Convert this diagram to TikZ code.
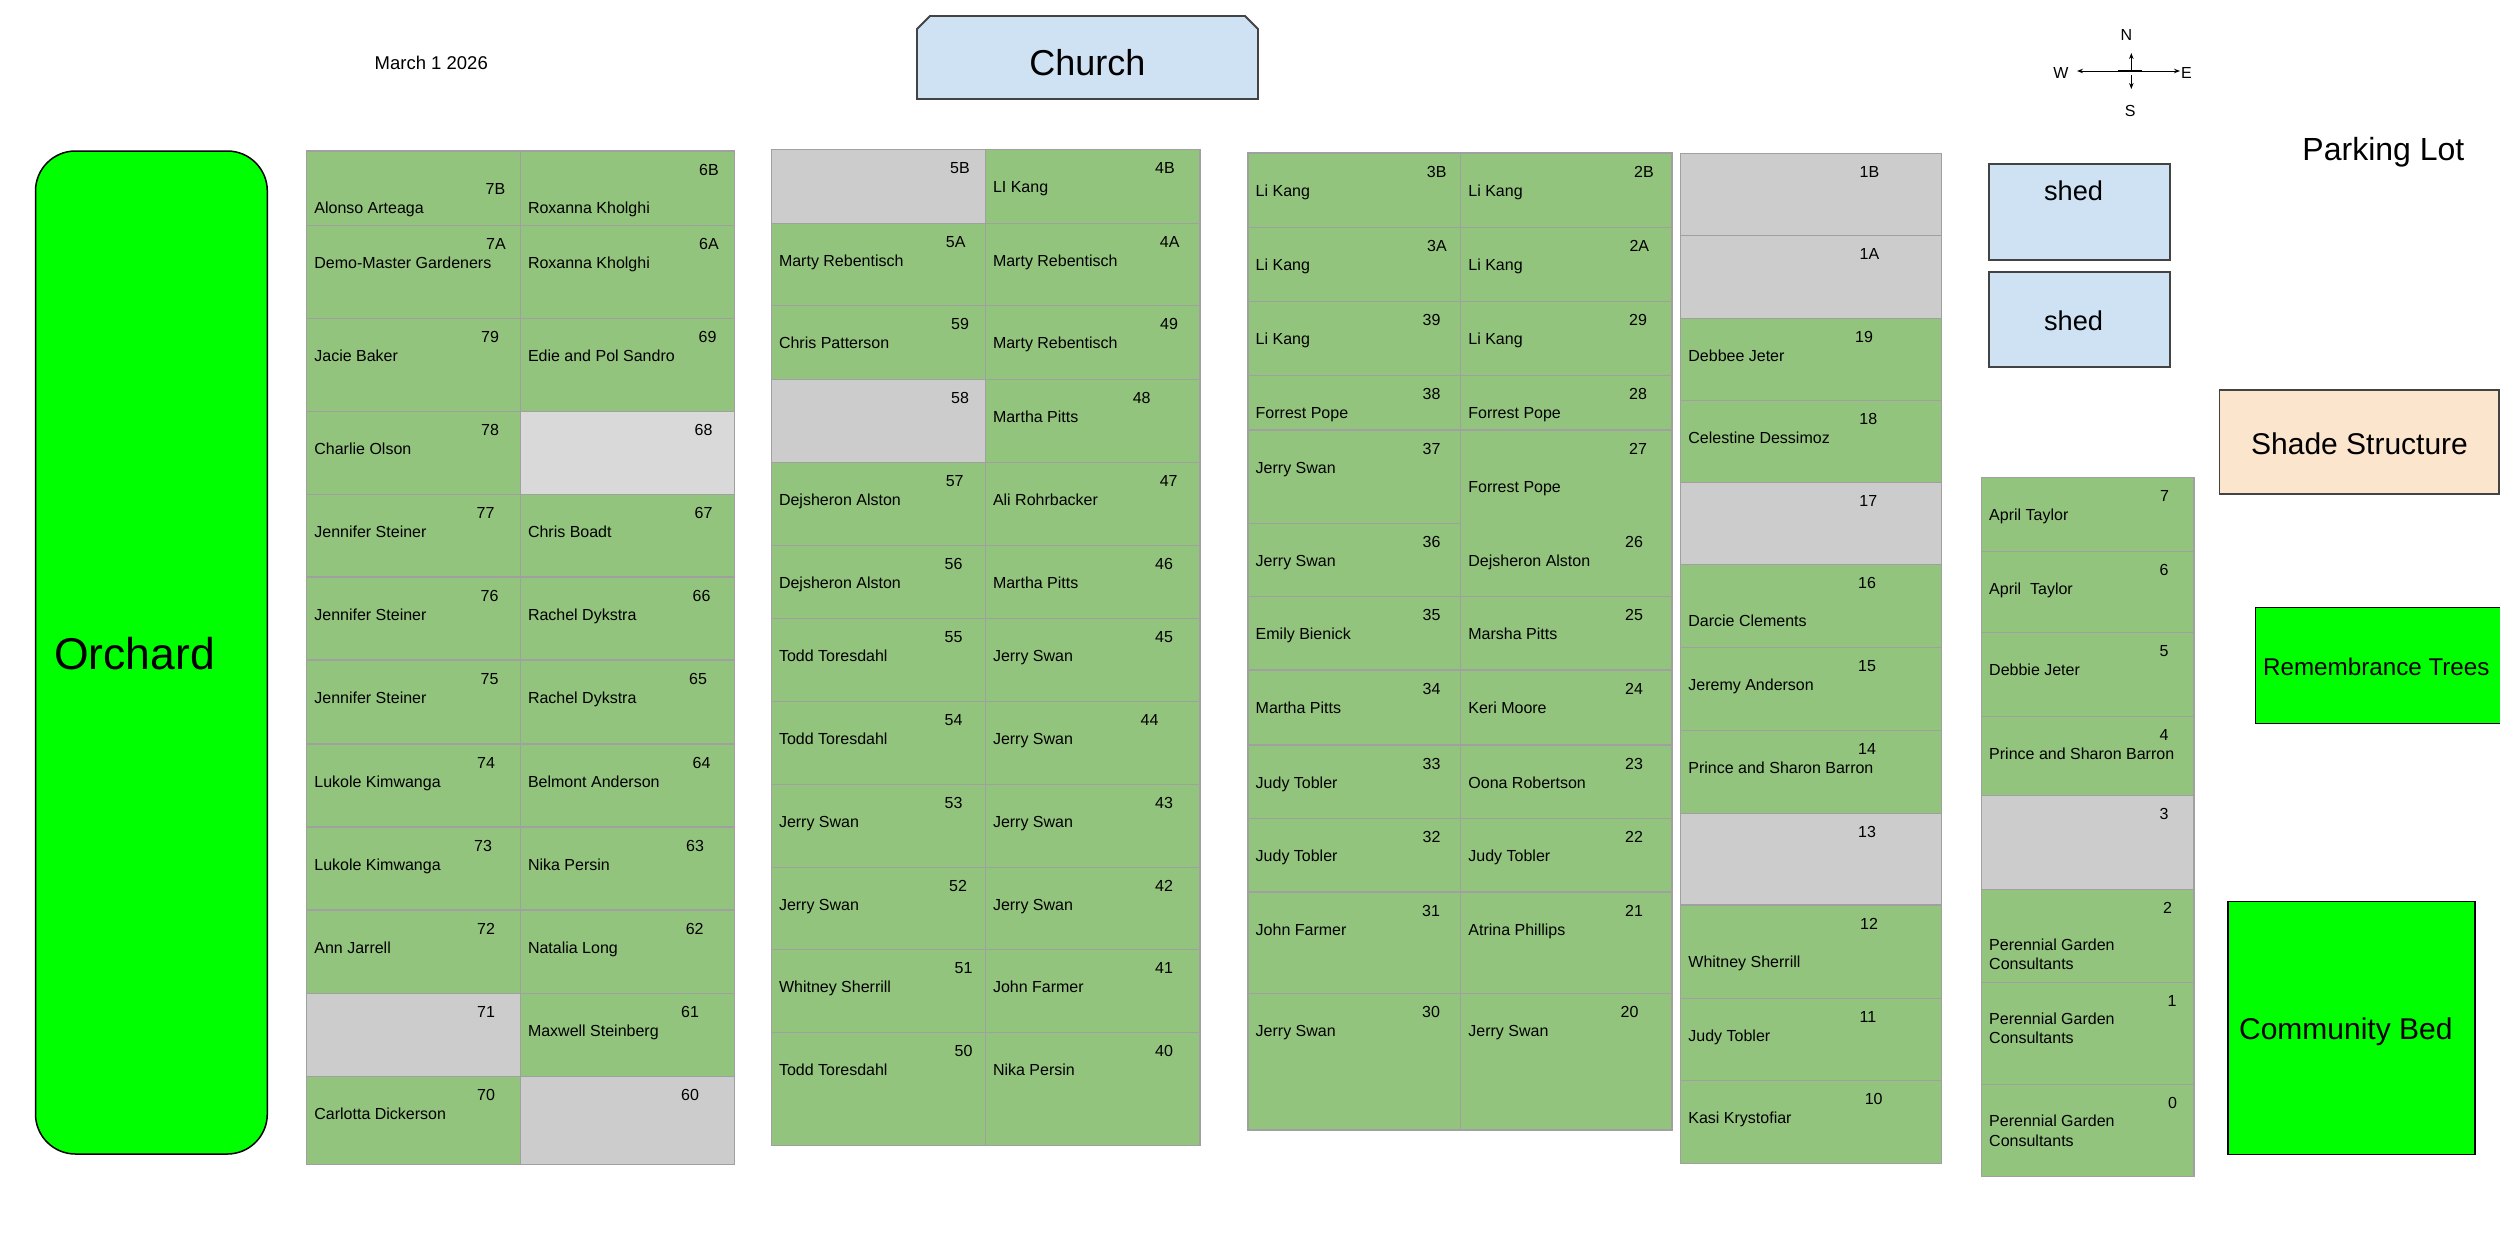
\documentclass[tikz,border=0pt]{standalone}
\usepackage{fontspec}
\setmainfont{Liberation Sans}
\usetikzlibrary{arrows.meta}
\definecolor{plotgreen}{HTML}{93C47D}
\definecolor{plotgray}{HTML}{CCCCCC}
\definecolor{plotlight}{HTML}{D9D9D9}
\definecolor{plotline}{HTML}{A0A0A0}
\definecolor{shedblue}{HTML}{CFE2F3}
\definecolor{shadepeach}{HTML}{FCE5CD}
\definecolor{brightgreen}{HTML}{00FF00}
\definecolor{darkline}{HTML}{434343}
\tikzset{
  plotbox/.style={draw=plotline, line width=1.2pt},
  greenplot/.style={plotbox, fill=plotgreen},
  grayplot/.style={plotbox, fill=plotgray},
  lightplot/.style={plotbox, fill=plotlight},
  numtxt/.style={anchor=base, inner sep=0pt, font=\fontsize{16}{19}\selectfont},
  nametxt/.style={anchor=base west, inner sep=0pt, font=\fontsize{16}{19}\selectfont},
  bluebox/.style={draw=darkline, line width=1.8pt, fill=shedblue},
  peachbox/.style={draw=darkline, line width=1.8pt, fill=shadepeach},
  limebox/.style={draw=black, line width=1.5pt, fill=brightgreen},
  bigtxt/.style={anchor=base, inner sep=0pt},
  comp/.style={line width=1pt, -{Stealth[length=6pt,width=4.5pt]}},
}
% #1 style, #2 x1, #3 y1, #4 x2, #5 y2, #6 number, #7 number x, #8 name, #9 name offset
\newcommand\gardenplot[9]{%
  \path[#1] (#2,#3) rectangle (#4,#5);
  \node[numtxt] (n#6) at (#7,#3+\numofs) {#6};
  \ifx\relax#8\relax\else
    \node[nametxt] (p#6) at (#2+7.5,#3+#9) {#8};
  \fi}
\def\numofs{24}
\begin{document}
\begin{tikzpicture}[x=1pt,y=-1pt]
\useasboundingbox[fill=white] (0,0) rectangle (2500,1250);

% ---------- labels at top ----------
\node[anchor=base west, inner sep=0pt, font=\fontsize{18.5}{22}\selectfont] (date) at (374.5,69.3) {March 1 2026};
\path[bluebox] (917,99) -- (917,29) -- (930,16) -- (1245,16) -- (1258,29) -- (1258,99) -- cycle;
\node[bigtxt, font=\fontsize{36}{40}\selectfont] (church) at (1087.4,75) {Church};

% ---------- compass ----------
\coordinate (cc) at (2131.3,71);
\coordinate (cw) at (2077,71);
\coordinate (ce) at (2180,71);
\coordinate (cn) at (2131.3,53);
\coordinate (cs0) at (2131.3,75);
\coordinate (cs) at (2131.3,89);
\coordinate (cb1) at (2118.4,71);
\coordinate (cb2) at (2142.2,71);
\draw[comp] (cc) -- (cw);
\draw[comp] (cc) -- (ce);
\draw[comp] (cc) -- (cn);
\draw[comp] (cs0) -- (cs);
\draw[line width=2pt] (cb1) -- (cb2);
\node[inner sep=0pt, font=\fontsize{16}{19}\selectfont] (lN) at (2126.4,35) {N};
\node[inner sep=0pt, font=\fontsize{16}{19}\selectfont] (lW) at (2060.8,72.7) {W};
\node[inner sep=0pt, font=\fontsize{16}{19}\selectfont] (lE) at (2186.4,72.7) {E};
\node[inner sep=0pt, font=\fontsize{16}{19}\selectfont] (lS) at (2130.3,111) {S};

\node[bigtxt, font=\fontsize{32}{36}\selectfont] (parking) at (2383.4,160) {Parking Lot};

% ---------- sheds, shade, trees, community bed ----------
\path[bluebox] (1989.3,164.3) rectangle (2170.3,260.3);
\node[bigtxt, font=\fontsize{27.2}{30}\selectfont] (shed1) at (2073.5,200) {shed};
\path[bluebox] (1989.3,272.3) rectangle (2170.3,367.3);
\node[bigtxt, font=\fontsize{27.2}{30}\selectfont] (shed2) at (2073.5,330.7) {shed};
\path[peachbox] (2219.4,390.3) rectangle (2499.3,494.3);
\node[bigtxt, font=\fontsize{30}{34}\selectfont] (shade) at (2359.5,454) {Shade Structure};
\path[limebox] (2255.4,607.3) rectangle (2503,723.3);
\node[bigtxt, font=\fontsize{24.2}{28}\selectfont] (trees) at (2376.3,675) {Remembrance Trees};
\path[limebox] (2228,901.5) rectangle (2475,1154.3);
\node[bigtxt, font=\fontsize{30}{34}\selectfont] (community) at (2345.8,1039.3) {Community Bed};
\path[limebox, rounded corners=40pt] (35.5,151) rectangle (267.3,1154);
\node[anchor=base west, inner sep=0pt, font=\fontsize{44.5}{48}\selectfont] (orchard) at (54,669.7) {Orchard};

% ---------- block A, left column ----------
\def\numofs{43}
\gardenplot{greenplot}{306.7}{151}{520.3}{225.3}{7B}{495.5}{Alonso Arteaga}{62}
\def\numofs{24}
\gardenplot{greenplot}{306.7}{225.3}{520.3}{318.3}{7A}{496}{Demo-Master Gardeners}{43}
\gardenplot{greenplot}{306.7}{318.3}{520.3}{411.3}{79}{490}{Jacie Baker}{43}
\gardenplot{greenplot}{306.7}{411.3}{520.3}{494.3}{78}{490}{Charlie Olson}{43}
\gardenplot{greenplot}{306.7}{494.3}{520.3}{577}{77}{485.5}{Jennifer Steiner}{43}
\gardenplot{greenplot}{306.7}{577}{520.3}{660}{76}{489.5}{Jennifer Steiner}{43}
\gardenplot{greenplot}{306.7}{660}{520.3}{744}{75}{489.5}{Jennifer Steiner}{43}
\gardenplot{greenplot}{306.7}{744}{520.3}{827}{74}{486}{Lukole Kimwanga}{43}
\gardenplot{greenplot}{306.7}{827}{520.3}{910}{73}{483}{Lukole Kimwanga}{43}
\gardenplot{greenplot}{306.7}{910}{520.3}{993.7}{72}{486}{Ann Jarrell}{43}
\gardenplot{grayplot}{306.7}{993.7}{520.3}{1076.3}{71}{486}{}{43}
\gardenplot{greenplot}{306.7}{1076.3}{520.3}{1164.3}{70}{486}{Carlotta Dickerson}{43}
% ---------- block A, right column ----------
\gardenplot{greenplot}{520.3}{151}{734.3}{225.3}{6B}{709}{Roxanna Kholghi}{62}
\gardenplot{greenplot}{520.3}{225.3}{734.3}{318.3}{6A}{709}{Roxanna Kholghi}{43}
\gardenplot{greenplot}{520.3}{318.3}{734.3}{411.3}{69}{707.5}{Edie and Pol Sandro}{43}
\gardenplot{lightplot}{520.3}{411.3}{734.3}{494.3}{68}{703.5}{}{43}
\gardenplot{greenplot}{520.3}{494.3}{734.3}{577}{67}{703.5}{Chris Boadt}{43}
\gardenplot{greenplot}{520.3}{577}{734.3}{660}{66}{701.5}{Rachel Dykstra}{43}
\gardenplot{greenplot}{520.3}{660}{734.3}{744}{65}{698}{Rachel Dykstra}{43}
\gardenplot{greenplot}{520.3}{744}{734.3}{827}{64}{701.5}{Belmont Anderson}{43}
\gardenplot{greenplot}{520.3}{827}{734.3}{910}{63}{695}{Nika Persin}{43}
\gardenplot{greenplot}{520.3}{910}{734.3}{993.7}{62}{694.7}{Natalia Long}{43}
\gardenplot{greenplot}{520.3}{993.7}{734.3}{1076.3}{61}{690}{Maxwell Steinberg}{43}
\gardenplot{grayplot}{520.3}{1076.3}{734.3}{1164.3}{60}{690}{}{43}

% ---------- block B, left column ----------
\gardenplot{grayplot}{771.3}{149.3}{985.3}{223.3}{5B}{960}{}{43}
\gardenplot{greenplot}{771.3}{223.3}{985.3}{305.3}{5A}{955.7}{Marty Rebentisch}{43}
\gardenplot{greenplot}{771.3}{305.3}{985.3}{379.3}{59}{960}{Chris Patterson}{43}
\gardenplot{grayplot}{771.3}{379.3}{985.3}{462.3}{58}{960}{}{43}
\gardenplot{greenplot}{771.3}{462.3}{985.3}{545.3}{57}{954.7}{Dejsheron Alston}{43}
\gardenplot{greenplot}{771.3}{545.3}{985.3}{618.6}{56}{953.5}{Dejsheron Alston}{43}
\gardenplot{greenplot}{771.3}{618.6}{985.3}{701.5}{55}{953.5}{Todd Toresdahl}{43}
\gardenplot{greenplot}{771.3}{701.5}{985.3}{784.4}{54}{953.5}{Todd Toresdahl}{43}
\gardenplot{greenplot}{771.3}{784.4}{985.3}{867.4}{53}{953.5}{Jerry Swan}{43}
\gardenplot{greenplot}{771.3}{867.4}{985.3}{949.3}{52}{958}{Jerry Swan}{43}
\gardenplot{greenplot}{771.3}{949.3}{985.3}{1032.3}{51}{963.5}{Whitney Sherrill}{43}
\gardenplot{greenplot}{771.3}{1032.3}{985.3}{1145.7}{50}{963.5}{Todd Toresdahl}{43}
% ---------- block B, right column ----------
\gardenplot{greenplot}{985.3}{149.3}{1200}{223.3}{4B}{1165}{LI Kang}{43}
\gardenplot{greenplot}{985.3}{223.3}{1200}{305.3}{4A}{1169.7}{Marty Rebentisch}{43}
\gardenplot{greenplot}{985.3}{305.3}{1200}{379.3}{49}{1169}{Marty Rebentisch}{43}
\gardenplot{greenplot}{985.3}{379.3}{1200}{462.3}{48}{1141.7}{Martha Pitts}{43}
\gardenplot{greenplot}{985.3}{462.3}{1200}{545.3}{47}{1168.7}{Ali Rohrbacker}{43}
\gardenplot{greenplot}{985.3}{545.3}{1200}{618.6}{46}{1164}{Martha Pitts}{43}
\gardenplot{greenplot}{985.3}{618.6}{1200}{701.5}{45}{1164}{Jerry Swan}{43}
\gardenplot{greenplot}{985.3}{701.5}{1200}{784.4}{44}{1149.6}{Jerry Swan}{43}
\gardenplot{greenplot}{985.3}{784.4}{1200}{867.4}{43}{1164}{Jerry Swan}{43}
\gardenplot{greenplot}{985.3}{867.4}{1200}{949.3}{42}{1164}{Jerry Swan}{43}
\gardenplot{greenplot}{985.3}{949.3}{1200}{1032.3}{41}{1164}{John Farmer}{43}
\gardenplot{greenplot}{985.3}{1032.3}{1200}{1145.7}{40}{1164}{Nika Persin}{43}

% ---------- block C, left column ----------
\gardenplot{greenplot}{1248}{153}{1460.7}{227.3}{3B}{1436.7}{Li Kang}{43}
\gardenplot{greenplot}{1248}{227.3}{1460.7}{301.3}{3A}{1437}{Li Kang}{43}
\gardenplot{greenplot}{1248}{301.3}{1460.7}{375.3}{39}{1431.5}{Li Kang}{43}
\gardenplot{greenplot}{1248}{375.3}{1460.7}{430}{38}{1431.5}{Forrest Pope}{43}
\gardenplot{greenplot}{1248}{430}{1460.7}{523.3}{37}{1431.5}{Jerry Swan}{43}
\gardenplot{greenplot}{1248}{523.3}{1460.7}{596.3}{36}{1431.5}{Jerry Swan}{43}
\gardenplot{greenplot}{1248}{596.3}{1460.7}{670}{35}{1431.5}{Emily Bienick}{43}
\gardenplot{greenplot}{1248}{670}{1460.7}{745}{34}{1431.5}{Martha Pitts}{43}
\gardenplot{greenplot}{1248}{745}{1460.7}{818.3}{33}{1431.5}{Judy Tobler}{43}
\gardenplot{greenplot}{1248}{818.3}{1460.7}{892}{32}{1431.5}{Judy Tobler}{43}
\gardenplot{greenplot}{1248}{892}{1460.7}{993.3}{31}{1431}{John Farmer}{43}
\gardenplot{greenplot}{1248}{993.3}{1460.7}{1130}{30}{1431}{Jerry Swan}{43}
% ---------- block C, right column ----------
\gardenplot{greenplot}{1460.7}{153}{1672}{227.3}{2B}{1644}{Li Kang}{43}
\gardenplot{greenplot}{1460.7}{227.3}{1672}{301.3}{2A}{1639.3}{Li Kang}{43}
\gardenplot{greenplot}{1460.7}{301.3}{1672}{375.3}{29}{1638}{Li Kang}{43}
\gardenplot{greenplot}{1460.7}{375.3}{1672}{430}{28}{1638}{Forrest Pope}{43}
\gardenplot{greenplot}{1460.7}{430}{1672}{596.3}{27}{1638}{Forrest Pope}{62}
\node[numtxt] (n26) at (1634,523.3+24) {26};
\node[nametxt] (p26) at (1460.7+7.5,523.3+43) {Dejsheron Alston};
\gardenplot{greenplot}{1460.7}{596.3}{1672}{670}{25}{1634}{Marsha Pitts}{43}
\gardenplot{greenplot}{1460.7}{670}{1672}{745}{24}{1634}{Keri Moore}{43}
\gardenplot{greenplot}{1460.7}{745}{1672}{818.3}{23}{1634}{Oona Robertson}{43}
\gardenplot{greenplot}{1460.7}{818.3}{1672}{892}{22}{1634}{Judy Tobler}{43}
\gardenplot{greenplot}{1460.7}{892}{1672}{993.3}{21}{1634}{Atrina Phillips}{43}
\gardenplot{greenplot}{1460.7}{993.3}{1672}{1130}{20}{1629.5}{Jerry Swan}{43}

% ---------- block D ----------
\gardenplot{grayplot}{1680.7}{153.3}{1941.5}{235.7}{1B}{1869.5}{}{43}
\gardenplot{grayplot}{1680.7}{235.7}{1941.5}{318.3}{1A}{1869.5}{}{43}
\gardenplot{greenplot}{1680.7}{318.3}{1941.5}{400.7}{19}{1864}{Debbee Jeter}{43}
\gardenplot{greenplot}{1680.7}{400.7}{1941.5}{482.3}{18}{1868.3}{Celestine Dessimoz}{43}
\gardenplot{grayplot}{1680.7}{482.3}{1941.5}{564.4}{17}{1868.3}{}{43}
\gardenplot{greenplot}{1680.7}{564.4}{1941.5}{647.3}{16}{1867}{Darcie Clements}{62}
\gardenplot{greenplot}{1680.7}{647.3}{1941.5}{730.2}{15}{1867}{Jeremy Anderson}{43}
\gardenplot{greenplot}{1680.7}{730.2}{1941.5}{813.1}{14}{1867}{Prince and Sharon Barron}{43}
\gardenplot{grayplot}{1680.7}{813.1}{1941.5}{905}{13}{1867}{}{43}
\gardenplot{greenplot}{1680.7}{905}{1941.5}{998.3}{12}{1869}{Whitney Sherrill}{62}
\gardenplot{greenplot}{1680.7}{998.3}{1941.5}{1080.3}{11}{1868}{Judy Tobler}{43}
\gardenplot{greenplot}{1680.7}{1080.3}{1941.5}{1163.3}{10}{1873.7}{Kasi Krystofiar}{43}

% ---------- block E ----------
\gardenplot{greenplot}{1981.5}{477.3}{2194}{551.5}{7}{2164.5}{April Taylor}{43}
\gardenplot{greenplot}{1981.5}{551.5}{2194}{632.5}{6}{2164}{April~ Taylor}{43}
\gardenplot{greenplot}{1981.5}{632.5}{2194}{716.2}{5}{2164}{Debbie Jeter}{43}
\gardenplot{greenplot}{1981.5}{716.2}{2194}{795.5}{4}{2164}{Prince and Sharon Barron}{43}
\gardenplot{grayplot}{1981.5}{795.5}{2194}{889.3}{3}{2164}{}{43}
\gardenplot{greenplot}{1981.5}{889.3}{2194}{982.3}{2}{2167.5}{Perennial Garden}{61}
\node[nametxt] (q2) at (1981.5+7.5,889.3+80) {Consultants};
\gardenplot{greenplot}{1981.5}{982.3}{2194}{1084.3}{1}{2172}{Perennial Garden}{42}
\node[nametxt] (q1) at (1981.5+7.5,982.3+61) {Consultants};
\gardenplot{greenplot}{1981.5}{1084.3}{2194}{1176.7}{0}{2172.5}{Perennial Garden}{42}
\node[nametxt] (q0) at (1981.5+7.5,1084.3+62) {Consultants};
\end{tikzpicture}
\end{document}
